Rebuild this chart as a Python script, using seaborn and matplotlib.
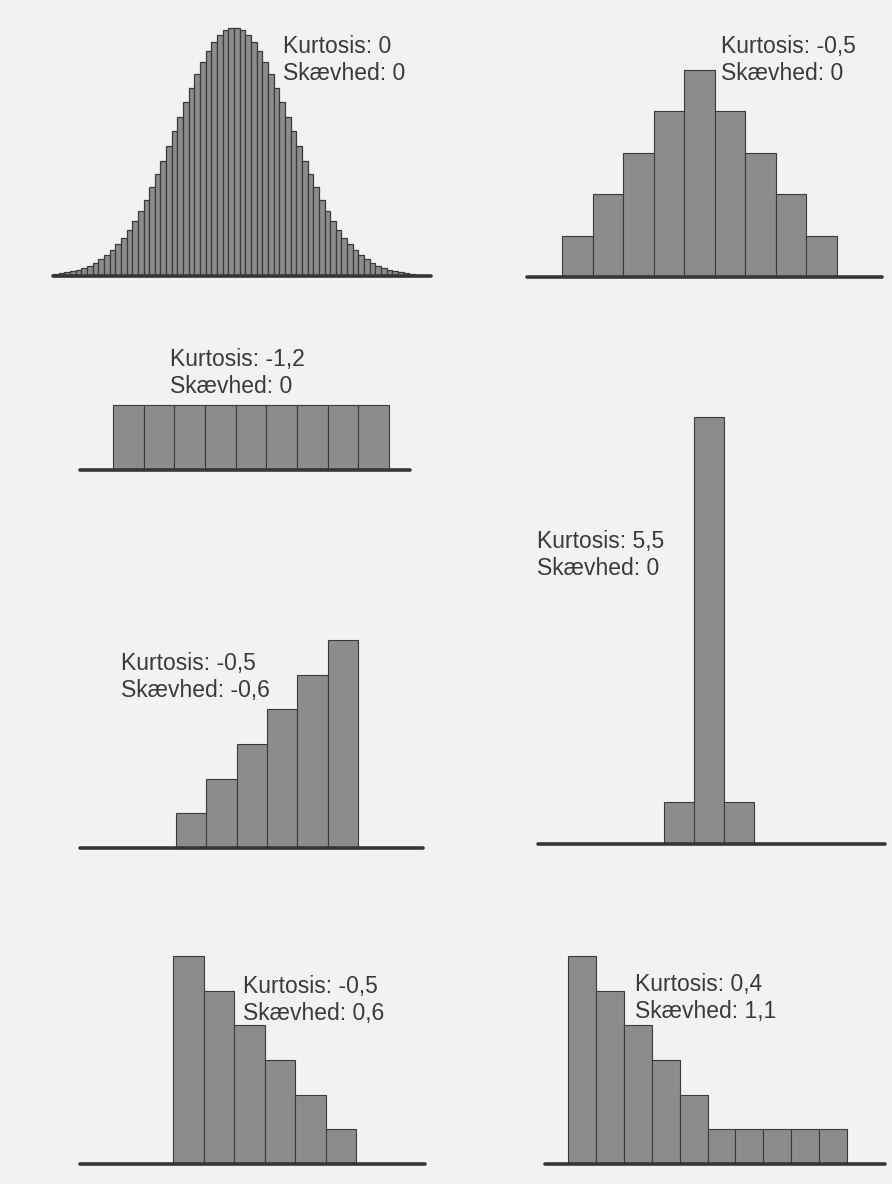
import numpy as np
import matplotlib
matplotlib.use("Agg")
import matplotlib.pyplot as plt
import seaborn as sns

# ---- data: bar heights of the six example distributions ----
normal_half = [247.7, 245.3, 240.5, 233.5, 224.6, 213.8, 201.5, 188.0, 173.9, 159.2,
               144.4, 129.6, 115.2, 101.4, 88.4, 76.3, 65.2, 55.2, 46.3, 38.4,
               31.6, 25.7, 20.7, 16.5, 13.1, 10.2, 7.9, 6.1, 4.6, 3.5, 2.6, 1.9]
normal_heights = normal_half[::-1] + normal_half
platykurtic_heights = [1, 2, 3, 4, 5, 4, 3, 2, 1]
uniform_heights = [1, 1, 1, 1, 1, 1, 1, 1, 1]
peaked_heights = [1, 10.2, 1]
left_skew_heights = [1, 2, 3, 4, 5, 6]
right_skew_heights = [6, 5, 4, 3, 2, 1]
long_tail_heights = [6, 5, 4, 3, 2, 1, 1, 1, 1, 1]

kurtosis_labels = ["Kurtosis: 0", "Kurtosis: -0,5", "Kurtosis: -1,2", "Kurtosis: 5,5",
                   "Kurtosis: -0,5", "Kurtosis: -0,5", "Kurtosis: 0,4"]
skew_labels = ["Skævhed: 0", "Skævhed: 0", "Skævhed: 0", "Skævhed: 0",
               "Skævhed: -0,6", "Skævhed: 0,6", "Skævhed: 1,1"]

# ---- styling ----
sns.set_theme(style="white")
plt.rcParams["font.family"] = ["Liberation Sans", "DejaVu Sans"]

PAPER = "#f2f2f0"
BAR_FILL = "#8c8c8c"
BAR_EDGE = "#3a3a3a"
LINE = "#363636"
TEXT = "#3a3a3a"

W, H = 892, 1184
fig = plt.figure(figsize=(W / 100, H / 100), dpi=100, facecolor=PAPER)


def fx(x):
    return x / W


def fy(y):
    return 1 - y / H


def panel(values, bar_left, bar_right, base_y, top_y, line_left, line_right, edge_lw=0.8):
    """One histogram; geometry is given in figure pixels (origin top-left)."""
    n = len(values)
    w = (bar_right - bar_left) / n
    ax = fig.add_axes([fx(line_left), fy(base_y),
                       (line_right - line_left) / W, (base_y - top_y) / H])
    ax.set_facecolor("none")
    sns.barplot(x=np.arange(n), y=values, ax=ax, color=BAR_FILL, saturation=1,
                width=1, edgecolor=BAR_EDGE, linewidth=edge_lw)
    for p in ax.patches:
        p.set_clip_on(False)
    ax.set_xlim(-0.5 - (bar_left - line_left) / w, n - 0.5 + (line_right - bar_right) / w)
    ax.set_ylim(0, max(values))
    ax.axhline(0, color=LINE, lw=2.6, clip_on=False, zorder=5)
    ax.set_axis_off()
    return ax


def label(i, x, y):
    fig.text(fx(x), fy(y), kurtosis_labels[i], color=TEXT, fontsize=16.5,
             va="baseline", ha="left", zorder=10)
    fig.text(fx(x), fy(y + 27), skew_labels[i], color=TEXT, fontsize=16.5,
             va="baseline", ha="left", zorder=10)


panel(normal_heights, 53, 415, 276, 28, 53, 431, edge_lw=0.9)
label(0, 283, 53)

panel(platykurtic_heights, 562, 837, 277, 70, 527, 882)
label(1, 721, 53)

panel(uniform_heights, 113, 389, 470, 405, 80, 410)
label(2, 170, 366)

panel(peaked_heights, 664, 754, 844, 417, 538, 885)
label(3, 537, 548)

panel(left_skew_heights, 176, 358, 848, 640, 80, 423)
label(4, 121, 670)

panel(right_skew_heights, 173, 356, 1164, 956, 80, 425)
label(5, 243, 993)

panel(long_tail_heights, 568, 847, 1164, 956, 545, 885)
label(6, 635, 991)

fig.savefig("out.png", dpi=100, facecolor=PAPER)
